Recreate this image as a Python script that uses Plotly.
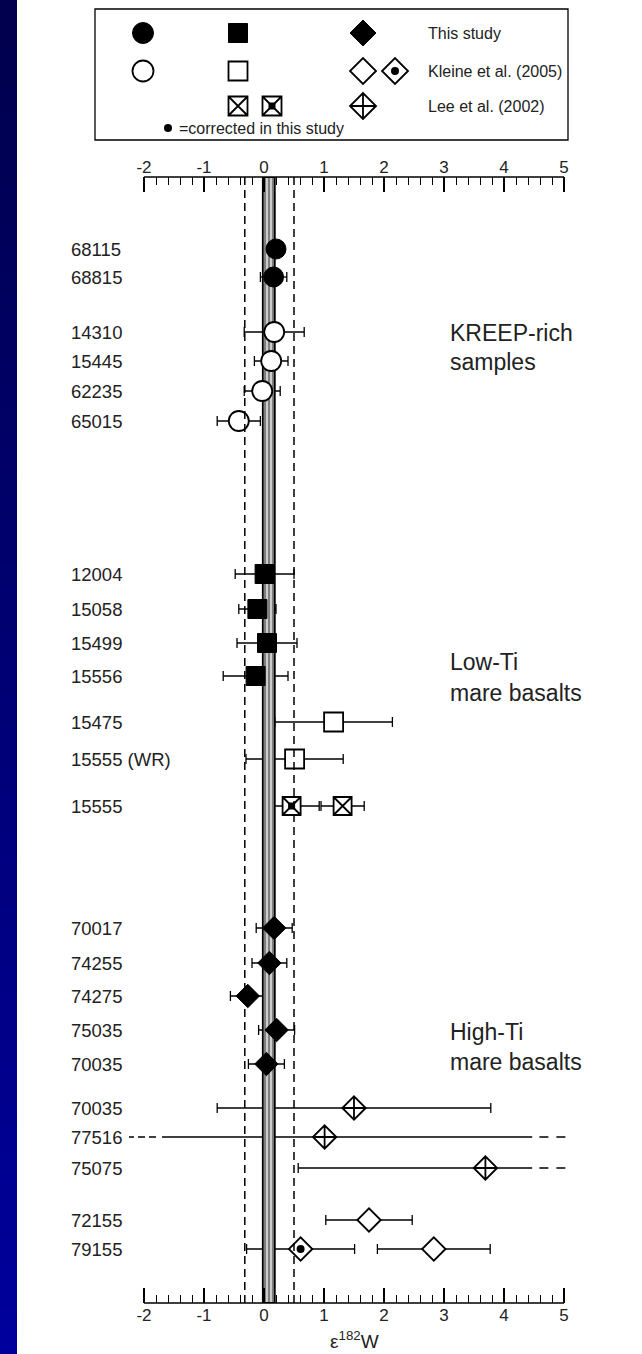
import numpy as np
import plotly.graph_objects as go

# ---------------- data: epsilon-182W of lunar samples ----------------
row_labels = ["68115", "68815", "14310", "15445", "62235", "65015",
              "12004", "15058", "15499", "15556", "15475", "15555 (WR)", "15555",
              "70017", "74255", "74275", "75035", "70035",
              "70035", "77516", "75075", "72155", "79155"]

# This study
this_circle_rows = [0, 1]
this_circle_val = [0.20, 0.16]
this_circle_err = [0.12, 0.22]
this_square_rows = [6, 7, 8, 9]
this_square_val = [0.01, -0.11, 0.05, -0.14]
this_square_err = [0.49, 0.31, 0.50, 0.54]
this_diamond_rows = [13, 14, 15, 16, 17]
this_diamond_val = [0.17, 0.09, -0.27, 0.21, 0.04]
this_diamond_err = [0.30, 0.29, 0.29, 0.30, 0.30]

# Kleine et al. (2005)
kl_circle_rows = [2, 3, 4, 5]
kl_circle_val = [0.17, 0.12, -0.03, -0.42]
kl_circle_err = [0.50, 0.28, 0.30, 0.36]
kl_square_rows = [10, 11]
kl_square_val = [1.16, 0.51]
kl_square_err = [0.98, 0.81]
kl_diamond_rows = [21, 22]
kl_diamond_val = [1.75, 2.83]
kl_diamond_err = [0.72, 0.94]
kl_corr_rows = [22]
kl_corr_val = [0.61]
kl_corr_err = [0.90]

# Lee et al. (2002)
lee_square_rows = [12]
lee_square_val = [1.31]
lee_square_err = [0.36]
lee_corr_rows = [12]
lee_corr_val = [0.46]
lee_corr_err = [0.46]
lee_diamond_rows = [18, 19, 20]
lee_diamond_val = [1.50, 1.01, 3.69]
lee_diamond_err = [2.28, 3.57, 3.12]

# reference band and bounds
band_lo, band_hi = -0.02, 0.18
dash_lo, dash_hi = -0.32, 0.50

group_labels = [("KREEP-rich", "samples"), ("Low-Ti", "mare basalts"), ("High-Ti", "mare basalts")]
x_ticks = [-2, -1, 0, 1, 2, 3, 4, 5]
legend_labels = ["This study", "Kleine et al. (2005)", "Lee et al. (2002)"]
legend_note = "=corrected in this study"

# ---------------- layout geometry ----------------
W, H = 642, 1354
AX_TOP, AX_BOT = 177, 1303          # top / bottom axis lines (px)
X_L, X_R = -2.35, 5.1               # x range (extends past the ruler for the dashed tails)
PX_L, PX_R = 123, 570
SPAN = AX_BOT - AX_TOP

# vertical spacing between consecutive rows
row_gaps = [72, 28, 55, 29, 30, 30, 153, 35, 34, 33, 46, 37, 47,
            122, 35, 33, 34, 34, 44, 29, 31, 52, 29]
row_y = [float(v) for v in np.cumsum(row_gaps)]
group_y = [(row_y[2] + 1, row_y[3] + 1), (row_y[9] - 14, row_y[9] + 17), (row_y[16] + 2, row_y[17] - 2)]

CAP = 5
LO_LIM, HI_LIM = -1.70, 4.47        # solid part of whiskers; beyond this they turn dashed
TXT = "#222222"
FONT = "Liberation Sans, Arial, sans-serif"

fig = go.Figure()

# left page strip (vertical gradient)
n_strip = 60
c_top, c_bot = np.array([0, 0, 78]), np.array([0, 0, 156])
for i in range(n_strip):
    c = c_top + (c_bot - c_top) * i / (n_strip - 1)
    fig.add_shape(type="rect", xref="paper", yref="paper",
                  x0=0, x1=17 / W, y0=1 - (i + 1) / n_strip - 0.001, y1=1 - i / n_strip,
                  fillcolor="rgb(%d,%d,%d)" % tuple(c.astype(int)), line=dict(width=0), layer="below")

# ---------------- whiskers ----------------
all_series = [
    (this_circle_rows, this_circle_val, this_circle_err),
    (this_square_rows, this_square_val, this_square_err),
    (this_diamond_rows, this_diamond_val, this_diamond_err),
    (kl_circle_rows, kl_circle_val, kl_circle_err),
    (kl_square_rows, kl_square_val, kl_square_err),
    (kl_diamond_rows, kl_diamond_val, kl_diamond_err),
    (kl_corr_rows, kl_corr_val, kl_corr_err),
    (lee_square_rows, lee_square_val, lee_square_err),
    (lee_corr_rows, lee_corr_val, lee_corr_err),
    (lee_diamond_rows, lee_diamond_val, lee_diamond_err),
]
wx, wy, dlx, dly, drx, dry = [], [], [], [], [], []
for rows, vals, errs in all_series:
    for r, v, e in zip(rows, vals, errs):
        y = row_y[r]
        lo, hi = v - e, v + e
        a, b = max(lo, LO_LIM), min(hi, HI_LIM)
        wx += [a, b, None]; wy += [y, y, None]
        if lo >= LO_LIM:
            wx += [lo, lo, None]; wy += [y - CAP, y + CAP, None]
        else:
            dlx += [LO_LIM - 0.10, LO_LIM - 0.55, None]; dly += [y, y, None]
        if hi <= HI_LIM:
            wx += [hi, hi, None]; wy += [y - CAP, y + CAP, None]
        else:
            drx += [HI_LIM + 0.12, HI_LIM + 0.58, None]; dry += [y, y, None]

fig.add_trace(go.Scatter(x=wx, y=wy, mode="lines", line=dict(color="black", width=1.3),
                         hoverinfo="skip", showlegend=False))
fig.add_trace(go.Scatter(x=dlx, y=dly, mode="lines", line=dict(color="black", width=1.3, dash="7px,4px"),
                         hoverinfo="skip", showlegend=False))
fig.add_trace(go.Scatter(x=drx, y=dry, mode="lines", line=dict(color="black", width=1.3, dash="9px,8px"),
                         hoverinfo="skip", showlegend=False))

# reference band (rope-like strands)
fig.add_trace(go.Scatter(x=[band_lo, band_hi, band_hi, band_lo, band_lo],
                         y=[0, 0, SPAN, SPAN, 0], mode="lines", fill="toself",
                         fillcolor="white",
                         fillpattern=dict(shape="|", fgcolor="black", bgcolor="white", size=4, solidity=0.7),
                         line=dict(color="black", width=1.8), hoverinfo="skip", showlegend=False))

for xv in (dash_lo, dash_hi):
    fig.add_shape(type="line", xref="x", yref="y domain", x0=xv, x1=xv, y0=0, y1=1,
                  line=dict(color="black", width=1.5, dash="8px,5px"), layer="above")


def dots(rows, vals, symbol, size, fill, lw=1.8, xa="x", ya="y", ys=None):
    yy = ys if ys is not None else [row_y[r] for r in rows]
    return go.Scatter(x=vals, y=yy, mode="markers", xaxis=xa, yaxis=ya,
                      marker=dict(symbol=symbol, size=size, color=fill,
                                  line=dict(color="black", width=lw)),
                      cliponaxis=False, hoverinfo="skip", showlegend=False)


fig.add_trace(dots(this_circle_rows, this_circle_val, "circle", 20, "black", 1))
fig.add_trace(dots(this_square_rows, this_square_val, "square", 19, "black", 1))
fig.add_trace(dots(this_diamond_rows, this_diamond_val, "diamond", 18, "black", 1))
fig.add_trace(dots(kl_circle_rows, kl_circle_val, "circle", 20, "white"))
fig.add_trace(dots(kl_square_rows, kl_square_val, "square", 19, "white"))
fig.add_trace(dots(kl_diamond_rows, kl_diamond_val, "diamond", 18, "white"))
fig.add_trace(dots(kl_corr_rows, kl_corr_val, "diamond", 18, "white"))
fig.add_trace(dots(kl_corr_rows, kl_corr_val, "circle", 8, "black", 0))
fig.add_trace(dots(lee_square_rows, lee_square_val, "square-x", 18, "white"))
fig.add_trace(dots(lee_corr_rows, lee_corr_val, "square-x", 18, "white"))
fig.add_trace(dots(lee_corr_rows, lee_corr_val, "square", 7, "black", 0))
fig.add_trace(dots(lee_diamond_rows, lee_diamond_val, "diamond-cross", 18, "white"))

# dummy trace so the top ruler is drawn
fig.add_trace(go.Scatter(x=[0], y=[0], xaxis="x2", yaxis="y", mode="markers",
                         marker=dict(opacity=0), hoverinfo="skip", showlegend=False))

# ruler lines top and bottom
for yd in (0, 1):
    fig.add_shape(type="line", xref="x", yref="y domain", x0=x_ticks[0], x1=x_ticks[-1], y0=yd, y1=yd,
                  line=dict(color="black", width=1.6), layer="above")

# sample labels
for lab, y in zip(row_labels, row_y):
    fig.add_annotation(text=lab, xref="paper", yref="y", x=69 / W, y=y, xanchor="left", yanchor="middle",
                       showarrow=False, font=dict(family=FONT, size=18.5, color=TXT))

# group labels
for (l1, l2), (y1, y2) in zip(group_labels, group_y):
    for t, y in ((l1, y1), (l2, y2)):
        fig.add_annotation(text=t, xref="paper", yref="y", x=448 / W, y=y, xanchor="left", yanchor="middle",
                           showarrow=False, font=dict(family=FONT, size=23, color=TXT))

# axis title
fig.add_annotation(text="\u03b5<sup>182</sup>W", xref="x", yref="paper", x=1.5, y=1 - 1340 / H,
                   xanchor="center", yanchor="middle", showarrow=False,
                   font=dict(family=FONT, size=19, color=TXT))

# ---------------- key box ----------------
LB = dict(x0=95, x1=568, y0=9, y1=140)
leg_row_y = [33, 71, 106]
col_circ, col_sq, col_sq2, col_dia, col_dia2, col_txt = 143, 238, 272, 363, 395, 426
fig.add_shape(type="rect", xref="x3", yref="y3", x0=LB["x0"], x1=LB["x1"], y0=LB["y0"], y1=LB["y1"],
              line=dict(color="black", width=1.3), fillcolor="white", layer="below")
r1, r2, r3 = leg_row_y
fig.add_trace(dots(None, [col_circ], "circle", 21, "black", 1, "x3", "y3", [r1]))
fig.add_trace(dots(None, [col_sq], "square", 19, "black", 1, "x3", "y3", [r1]))
fig.add_trace(dots(None, [col_dia], "diamond", 20, "black", 1, "x3", "y3", [r1]))
fig.add_trace(dots(None, [col_circ], "circle", 21, "white", 1.8, "x3", "y3", [r2]))
fig.add_trace(dots(None, [col_sq], "square", 19, "white", 1.8, "x3", "y3", [r2]))
fig.add_trace(dots(None, [col_dia, col_dia2], "diamond", 20, "white", 1.8, "x3", "y3", [r2, r2]))
fig.add_trace(dots(None, [col_dia2], "circle", 8, "black", 0, "x3", "y3", [r2]))
fig.add_trace(dots(None, [col_sq, col_sq2], "square-x", 19, "white", 1.8, "x3", "y3", [r3, r3]))
fig.add_trace(dots(None, [col_sq2], "square", 7, "black", 0, "x3", "y3", [r3]))
fig.add_trace(dots(None, [col_dia], "diamond-cross", 20, "white", 1.8, "x3", "y3", [r3]))
fig.add_trace(dots(None, [168], "circle", 8, "black", 0, "x3", "y3", [128]))
for t, y in zip(legend_labels, leg_row_y):
    fig.add_annotation(text=t, xref="x3", yref="y3", x=col_txt, y=y, xanchor="left", yanchor="middle",
                       showarrow=False, font=dict(family=FONT, size=16, color=TXT))
fig.add_annotation(text=legend_note, xref="x3", yref="y3", x=177, y=128, xanchor="left", yanchor="middle",
                   showarrow=False, font=dict(family=FONT, size=16, color=TXT))

minor_vals = [round(v, 1) for v in np.arange(-2, 5.001, 0.2) if abs(v - round(v)) > 1e-6]
tick_style = dict(
    tickmode="array", tickvals=x_ticks, ticktext=[str(t) for t in x_ticks],
    ticks="inside", ticklen=15, tickwidth=1.5, tickcolor="black",
    showline=False, showgrid=False, zeroline=False,
    tickfont=dict(family=FONT, size=17, color=TXT),
    minor=dict(tickvals=minor_vals, ticks="inside", ticklen=8, tickwidth=1.3,
               tickcolor="black", showgrid=False),
)

fig.update_layout(
    width=W, height=H, margin=dict(l=0, r=0, t=0, b=0),
    paper_bgcolor="white", plot_bgcolor="rgba(0,0,0,0)", showlegend=False,
    xaxis=dict(domain=[PX_L / W, PX_R / W], range=[X_L, X_R], anchor="y", side="bottom", **tick_style),
    xaxis2=dict(overlaying="x", matches="x", anchor="y", side="top", **tick_style),
    yaxis=dict(domain=[1 - AX_BOT / H, 1 - AX_TOP / H], range=[SPAN, 0], visible=False),
    xaxis3=dict(domain=[0, 1], range=[0, W], visible=False, anchor="y3"),
    yaxis3=dict(domain=[0, 1], range=[H, 0], visible=False, anchor="x3"),
)

fig.write_html("out.html")
